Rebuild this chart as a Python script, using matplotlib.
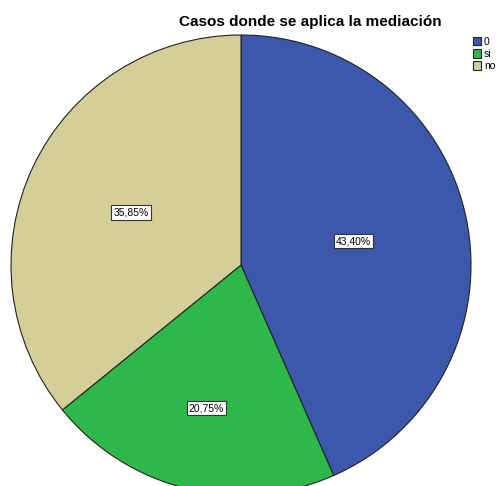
import numpy as np
import matplotlib.pyplot as plt

categories = ["0", "si", "no"]
counts = [23, 11, 19]
colors = ["#3D57AB", "#2FB84A", "#D4CE98"]
label_dist = [0.50, 0.64, 0.53]

plt.rcParams['font.family'] = ['Liberation Sans', 'DejaVu Sans']

fig = plt.figure(figsize=(4.99, 4.86), dpi=100)
ax = fig.add_axes([0, 0, 1, 1])

total = float(sum(counts))
wedges, _ = ax.pie(counts, colors=colors, startangle=90, counterclock=False,
                   radius=1, center=(0, 0),
                   wedgeprops=dict(edgecolor='#222222', linewidth=0.8))

for w, c, d in zip(wedges, counts, label_dist):
    ang = np.deg2rad((w.theta1 + w.theta2) / 2.0)
    pct = ("%.2f%%" % (100.0 * c / total)).replace('.', ',')
    ax.text(d * np.cos(ang), d * np.sin(ang), pct, ha='center', va='center', fontsize=7.5,
            bbox=dict(boxstyle='square,pad=0.2', facecolor='white', edgecolor='#333333', linewidth=0.8))

ax.set_xlim(-241 / 230.0, (499 - 241) / 230.0)
ax.set_ylim(-221 / 230.0, 265 / 230.0)
ax.set_aspect('equal')
ax.axis('off')

fig.text(0.621, 0.955, "Casos donde se aplica la mediación", ha='center', va='center',
         fontsize=11, fontweight='bold')

leg = fig.legend(wedges, categories, loc='upper left', bbox_to_anchor=(0.947, 0.924),
                 frameon=False, fontsize=7.5, handlelength=0.8, handleheight=0.85,
                 handletextpad=0.3, labelspacing=0.2, borderpad=0, borderaxespad=0)

fig.savefig("out.png", dpi=100)
